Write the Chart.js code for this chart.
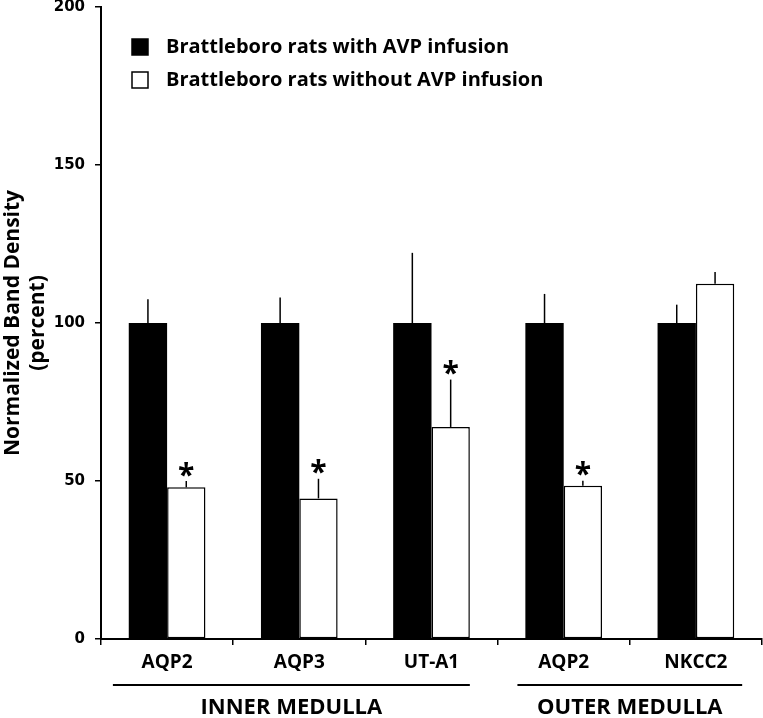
<!DOCTYPE html>
<html>
<head>
<meta charset="utf-8">
<script src="https://cdn.jsdelivr.net/npm/chart.js@4"></script>
<style>
  body { margin: 0; background: #fff; }
</style>
</head>
<body>
<canvas id="grafBand" width="763" height="718"></canvas>
<script>
// dados
const categorias = ['AQP2', 'AQP3', 'UT-A1', 'AQP2', 'NKCC2'];
const comAVP = [100, 100, 100, 100, 100];
const comAVPErr = [7.5, 8.1, 22.2, 9.2, 5.8];
const semAVP = [48.0, 44.5, 67.1, 48.5, 112.4];
const semAVPErr = [2.0, 6.2, 15.0, 1.6, 3.7];
const semAVPSig = [true, true, true, true, false];
const yTicks = [0, 50, 100, 150, 200];
const grupos = [
    { nome: 'INNER MEDULLA', de: 0, ate: 2 },
    { nome: 'OUTER MEDULLA', de: 3, ate: 4 }
];
const legendas = ['Brattleboro rats with AVP infusion', 'Brattleboro rats without AVP infusion'];

const erros = [comAVPErr, semAVPErr];

const pluginErros = {
    id: 'erros',
    afterDatasetsDraw(chart) {
        const ctx = chart.ctx;
        const y = chart.scales.y;
        ctx.save();
        ctx.strokeStyle = '#000';
        ctx.lineWidth = 1.5;
        chart.data.datasets.forEach(function(ds, i) {
            const meta = chart.getDatasetMeta(i);
            meta.data.forEach(function(bar, j) {
                const topo = y.getPixelForValue(ds.data[j] + erros[i][j]);
                ctx.beginPath();
                ctx.moveTo(bar.x, bar.y);
                ctx.lineTo(bar.x, topo);
                ctx.stroke();
                if (i === 1 && semAVPSig[j]) {
                    ctx.font = 'bold 30px "Open Sans"';
                    ctx.fillStyle = '#000';
                    ctx.textAlign = 'center';
                    ctx.textBaseline = 'alphabetic';
                    const m = ctx.measureText('*');
                    const cy = topo - 12;
                    ctx.fillText('*', bar.x, cy + (m.actualBoundingBoxAscent - m.actualBoundingBoxDescent) / 2);
                }
            });
        });
        ctx.restore();
    }
};

const pluginGrupos = {
    id: 'grupos',
    afterDraw(chart) {
        const ctx = chart.ctx;
        const x = chart.scales.x;
        const ajuste = [[-0.41, 0.29], [-0.35, 0.35]];
        ctx.save();
        ctx.strokeStyle = '#000';
        ctx.fillStyle = '#000';
        ctx.lineWidth = 2;
        ctx.font = 'bold 22px "Open Sans"';
        ctx.textAlign = 'center';
        ctx.textBaseline = 'middle';
        grupos.forEach(function(g, k) {
            const x1 = x.getPixelForValue(g.de + ajuste[k][0]);
            const x2 = x.getPixelForValue(g.ate + ajuste[k][1]);
            ctx.beginPath();
            ctx.moveTo(x1, 685);
            ctx.lineTo(x2, 685);
            ctx.stroke();
            ctx.fillText(g.nome, (x1 + x2) / 2, 708);
        });
        ctx.restore();
    }
};

const pluginLegenda = {
    id: 'legendaFig',
    afterDraw(chart) {
        const ctx = chart.ctx;
        ctx.save();
        ctx.font = 'bold 20px "Open Sans"';
        ctx.textAlign = 'left';
        ctx.textBaseline = 'middle';
        chart.data.datasets.forEach(function(ds, i) {
            const cy = 47 + i * 33;
            ctx.fillStyle = ds.backgroundColor;
            ctx.fillRect(132, cy - 8, 16, 16);
            ctx.strokeStyle = '#000';
            ctx.lineWidth = 1.5;
            ctx.strokeRect(132, cy - 8, 16, 16);
            ctx.fillStyle = '#000';
            ctx.fillText(ds.label, 166, cy);
        });
        ctx.restore();
    }
};

function iniGraf() {
    const ctx = document.getElementById('grafBand').getContext('2d');
    window.mGraf = new Chart(ctx, {
        type: 'bar',
        data: {
            labels: categorias,
            datasets: [{
                label: legendas[0],
                data: comAVP,
                backgroundColor: '#000000',
                borderWidth: 0,
                barPercentage: 1.0,
                categoryPercentage: 0.58
            }, {
                label: legendas[1],
                data: semAVP,
                backgroundColor: '#ffffff',
                borderColor: '#000000',
                borderWidth: 1.5,
                borderSkipped: false,
                barPercentage: 1.0,
                categoryPercentage: 0.58
            }]
        },
        options: {
            responsive: false,
            animation: false,
            layout: { padding: { top: 7, right: 1, left: 0, bottom: 0 } },
            plugins: {
                legend: { display: false },
                tooltip: { enabled: false }
            },
            scales: {
                x: {
                    offset: true,
                    afterFit: function(s) { s.height = 79; s.paddingLeft = 0; s.paddingRight = 0; },
                    grid: { drawOnChartArea: false, offset: true, tickLength: 6, color: '#000', lineWidth: 1.5 },
                    border: { color: '#000', width: 2 },
                    ticks: { color: '#000', padding: 6, font: { family: 'Open Sans', weight: 'bold', size: 19 } }
                },
                y: {
                    min: 0,
                    max: 200,
                    afterFit: function(s) { s.width = 101; s.paddingTop = 0; s.paddingBottom = 0; },
                    afterBuildTicks: function(s) { s.ticks = yTicks.map(function(v) { return { value: v }; }); },
                    grid: { drawOnChartArea: false, tickLength: 6, color: '#000', lineWidth: 1.5 },
                    border: { color: '#000', width: 2 },
                    ticks: { color: '#000', padding: 10, font: { family: 'DejaVu Sans', weight: 'bold', size: 15, lineHeight: 1 } },
                    title: {
                        display: true,
                        text: ['Normalized Band Density', '(percent)'],
                        color: '#000',
                        padding: { top: 0, bottom: 0 },
                        font: { family: 'Open Sans', weight: 'bold', size: 21 }
                    }
                }
            }
        },
        plugins: [pluginErros, pluginGrupos, pluginLegenda]
    });
}

document.addEventListener('DOMContentLoaded', function() {
    iniGraf();
});
</script>
</body>
</html>
